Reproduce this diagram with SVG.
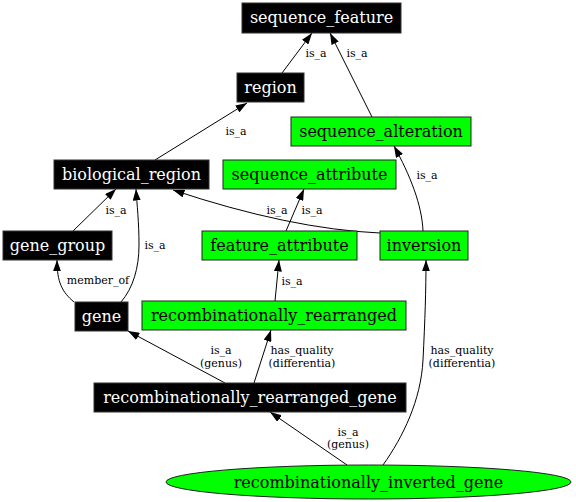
<svg xmlns="http://www.w3.org/2000/svg" width="576" height="502" viewBox="0 0 576 502">
<defs>
<marker id="arr" viewBox="0 0 10 7" refX="10" refY="3.5" markerWidth="11.5" markerHeight="8" markerUnits="userSpaceOnUse" orient="auto">
<path d="M0,0 L10,3.5 L0,7 z" fill="#000"/>
</marker>
</defs>
<style>
.blk rect{fill:#000;stroke:#333;stroke-width:1}
.blk text{fill:#fff}
.grn rect,.grn ellipse{fill:#00ff00;stroke:#222;stroke-width:1}
.grn text{fill:#000}
.node text{font-family:"DejaVu Serif",serif;font-size:16px;text-anchor:middle}
#edges path{fill:none;stroke:#000;stroke-width:1;marker-end:url(#arr)}
#edges text{font-family:"DejaVu Serif",serif;font-size:11px;text-anchor:middle;fill:#000}
</style>
<rect width="576" height="502" fill="#fff"/>
<g id="edges">
<path d="M282,73 L312,33"/>
<text x="316" y="57">is_a</text>
<path d="M372,117 L330,33"/>
<text x="357" y="57">is_a</text>
<path d="M155,160 L247,103"/>
<text x="236" y="135">is_a</text>
<path d="M73,231 L116,189"/>
<text x="116" y="214">is_a</text>
<path d="M121,302 C133,288 139,268 139,245 C139,222 137,205 136,189"/>
<text x="155" y="249">is_a</text>
<path d="M74,302 C62,292 57,282 57,260"/>
<text x="98" y="284">member_of</text>
<path d="M380,233 Q290,229 173,190"/>
<text x="277" y="214">is_a</text>
<path d="M286,231 L304,189"/>
<text x="312" y="214">is_a</text>
<path d="M423,231 C422,205 410,175 394,146"/>
<text x="427" y="179">is_a</text>
<path d="M275,301 L279,260"/>
<text x="292" y="285">is_a</text>
<path d="M225,383 L128,331"/>
<text x="221" y="354">is_a</text>
<text x="221" y="366.5">(genus)</text>
<path d="M254,383 L271,330"/>
<text x="302" y="354">has_quality</text>
<text x="302" y="366.5">(differentia)</text>
<path d="M347,465 L270,412"/>
<text x="348" y="435.5">is_a</text>
<text x="348" y="448">(genus)</text>
<path d="M383,465 C403,437 421,400 423,360 C425,320 426,290 426,260"/>
<text x="462" y="354">has_quality</text>
<text x="462" y="366.5">(differentia)</text>
</g>
<g id="sequence_feature" class="node blk"><rect x="242" y="3" width="159" height="30"/><text x="321.5" y="23">sequence_feature</text></g>
<g id="region" class="node blk"><rect x="237" y="73" width="67" height="29"/><text x="270.5" y="93">region</text></g>
<g id="sequence_alteration" class="node grn"><rect x="291" y="117" width="180" height="29"/><text x="381" y="136.5">sequence_alteration</text></g>
<g id="biological_region" class="node blk"><rect x="54" y="160" width="155" height="29"/><text x="131.5" y="179.5">biological_region</text></g>
<g id="sequence_attribute" class="node grn"><rect x="223" y="160" width="173" height="29"/><text x="309.5" y="179.5">sequence_attribute</text></g>
<g id="gene_group" class="node blk"><rect x="3" y="231" width="109" height="29"/><text x="57.5" y="250.5">gene_group</text></g>
<g id="feature_attribute" class="node grn"><rect x="202" y="231" width="155" height="29"/><text x="279.5" y="250.5">feature_attribute</text></g>
<g id="inversion" class="node grn"><rect x="380" y="231" width="88" height="29"/><text x="424" y="250.5">inversion</text></g>
<g id="gene" class="node blk"><rect x="75" y="302" width="53" height="29"/><text x="101.5" y="321.5">gene</text></g>
<g id="recombinationally_rearranged" class="node grn"><rect x="142" y="301" width="264" height="29"/><text x="274" y="321">recombinationally_rearranged</text></g>
<g id="recombinationally_rearranged_gene" class="node blk"><rect x="94" y="383" width="312" height="29"/><text x="250" y="403">recombinationally_rearranged_gene</text></g>
<g id="recombinationally_inverted_gene" class="node grn"><ellipse cx="368.5" cy="482" rx="202.5" ry="17"/><text x="368.5" y="487.5">recombinationally_inverted_gene</text></g>
</svg>
